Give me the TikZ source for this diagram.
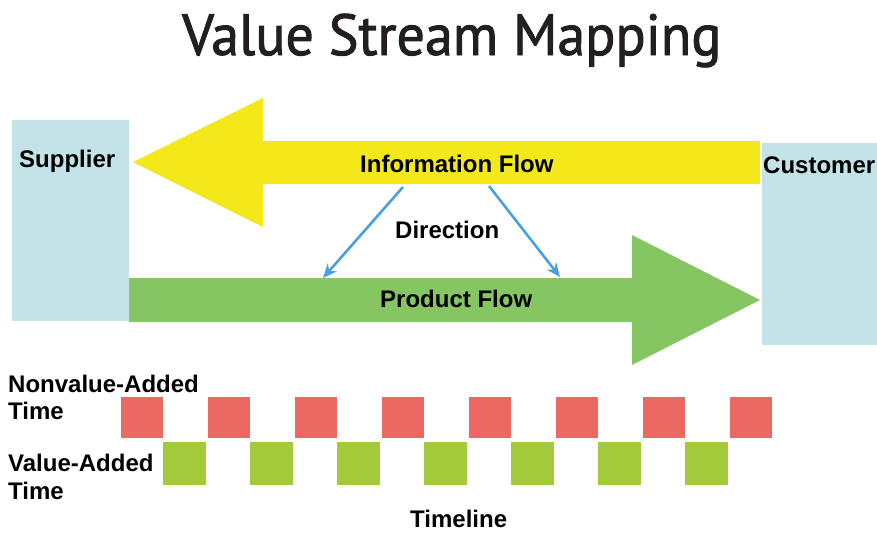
\documentclass[tikz,border=0pt]{standalone}
\usepackage{fontspec}
\setmainfont{Liberation Sans}
\newfontfamily\titlefont[FakeBold=1.6]{PT Sans}
\usepackage{xcolor}
\usetikzlibrary{
    arrows.meta,
    calc,
    positioning
}
\definecolor{boxblue}{RGB}{196,227,232}
\definecolor{infoyellow}{RGB}{242,232,26}
\definecolor{prodgreen}{RGB}{134,198,98}
\definecolor{nvared}{RGB}{236,104,98}
\definecolor{vagreen}{RGB}{162,202,58}
\definecolor{dirblue}{RGB}{74,160,218}
\definecolor{titlegray}{RGB}{35,31,32}

\tikzset{
    lbl/.style={font=\fontsize{24}{26}\selectfont\bfseries, inner sep=0pt, anchor=base west},
    party/.style={fill=boxblue, draw=none, inner sep=0pt, anchor=north west},
    nva/.style={fill=nvared, draw=none, inner sep=0pt, anchor=north west, minimum width=42, minimum height=41},
    va/.style={fill=vagreen, draw=none, inner sep=0pt, anchor=north west, minimum width=43, minimum height=43},
    dirarrow/.style={dirblue, line width=2.6pt, -{Stealth[length=14pt, width=12pt]}}
}

\begin{document}
\begin{tikzpicture}[x=1pt, y=-1pt]
                        \useasboundingbox (0, 0) rectangle (877, 533);

                        \node[inner sep=0pt, anchor=base west, text=titlegray, font=\titlefont\fontsize{58}{60}\selectfont] (title) at (182, 55) {\scalebox{0.965}[1]{Value Stream Mapping}};

                        \node[party, minimum width=117, minimum height=201] (supplier) at (12, 120) {};
                        \node[party, minimum width=120, minimum height=202] (customer) at (762, 143) {};

                        % information flow, right to left
                        \fill[infoyellow] (760, 141) -- (263, 141) -- (263, 98) -- (133, 162)
                            -- (263, 227) -- (263, 184) -- (760, 184) -- cycle;
                        % product flow, left to right
                        \fill[prodgreen] (129, 278) -- (632, 278) -- (632, 235) -- (760, 300)
                            -- (632, 365) -- (632, 322) -- (129, 322) -- cycle;

                        \node[lbl] (supplierlbl) at (19, 167) {Supplier};
                        \node[lbl] (customerlbl) at (763, 173) {Customer};
                        \node[lbl] (info) at (360, 172) {Information Flow};
                        \node[lbl] (direction) at (395, 238) {Direction};
                        \node[lbl] (product) at (380, 307) {Product Flow};

                        \coordinate (dl0) at (403, 187);
                        \coordinate (dl1) at (323, 278);
                        \coordinate (dr0) at (489, 186);
                        \coordinate (dr1) at (560, 277);
                        \draw[dirarrow] (dl0) -- (dl1);
                        \draw[dirarrow] (dr0) -- (dr1);

                        % timeline blocks
                        \foreach \i in {0,...,7}
                            \node[nva] (nva\i) at (121+87*\i, 397) {};
                        \foreach \i in {0,...,6}
                            \node[va] (va\i) at (163+87*\i, 442) {};

                        \node[lbl] (nvalbl) at (8, 392) {Nonvalue-Added};
                        \node[lbl] (nvatime) at (8, 419) {Time};
                        \node[lbl] (valbl) at (8, 471) {Value-Added};
                        \node[lbl] (vatime) at (8, 499) {Time};
                        \node[lbl] (timeline) at (410, 527) {Timeline};
                    \end{tikzpicture}
\end{document}
